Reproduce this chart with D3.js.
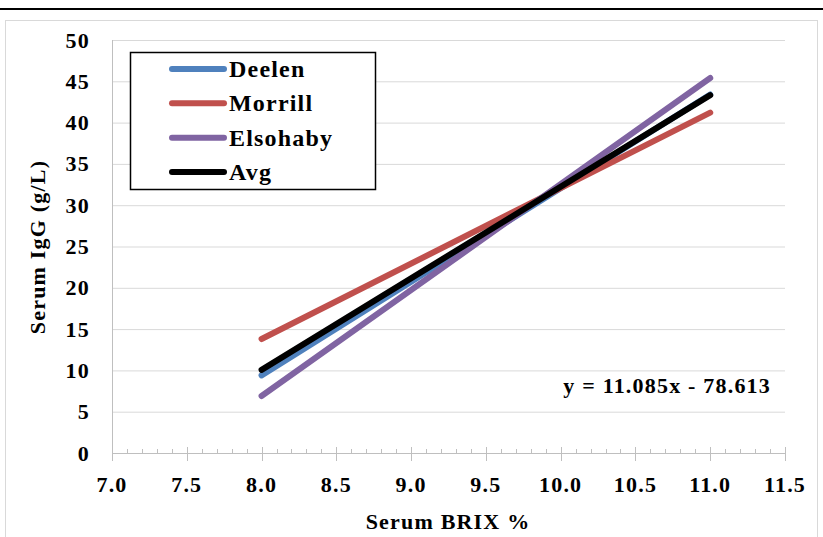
<!DOCTYPE html>
<html>
<head>
    <script src="https://d3js.org/d3.v7.min.js"></script>
    <style>
        body { margin: 0; background: #fff; }
        text { font-family: "Liberation Serif", "DejaVu Serif", serif; font-weight: bold; fill: #000; letter-spacing: 1.2px; }
    </style>
</head>
<body>
    <svg width="823" height="537"></svg>

    <script>
        // Series: endpoints of each fitted line (BRIX %, IgG g/L)
        const seriesNames = ["Deelen", "Morrill", "Elsohaby", "Avg"];
        const seriesColors = ["#4f81bd", "#c0504d", "#8064a2", "#000000"];
        const brixPoints = [8.0, 11.0];
        const deelen = [9.4, 43.4];
        const morrill = [13.8, 41.2];
        const elsohaby = [6.9, 45.4];
        const avg = [10.07, 43.32];
        const xTicks = [7.0, 7.5, 8.0, 8.5, 9.0, 9.5, 10.0, 10.5, 11.0, 11.5];
        const yTicks = [0, 5, 10, 15, 20, 25, 30, 35, 40, 45, 50];
        const equationLabel = "y = 11.085x - 78.613";

        const allSeries = [deelen, morrill, elsohaby, avg];

        const svg = d3.select("svg");

        // page rule at top and light chart frame
        svg.append("rect").attr("x", 0).attr("y", 8).attr("width", 823).attr("height", 2).attr("fill", "#000");
        svg.append("rect").attr("x", 5.5).attr("y", 20.5).attr("width", 812).attr("height", 540)
            .attr("fill", "none").attr("stroke", "#d9d9d9");

        const x = d3.scaleLinear().domain([7.0, 11.5]).range([112, 785]);
        const y = d3.scaleLinear().domain([0, 50]).range([453, 40]);

        // horizontal gridlines
        svg.append("g").selectAll("line")
            .data(yTicks.filter(d => d > 0))
            .enter().append("line")
            .attr("x1", x(7.0)).attr("x2", x(11.5))
            .attr("y1", d => y(d) + 0.5).attr("y2", d => y(d) + 0.5)
            .attr("stroke", "#d9d9d9").attr("stroke-width", 1);

        // y axis line and labels
        svg.append("line").attr("x1", x(7.0) + 0.5).attr("x2", x(7.0) + 0.5)
            .attr("y1", y(50)).attr("y2", y(0)).attr("stroke", "#bfbfbf");
        svg.append("g").selectAll("text")
            .data(yTicks).enter().append("text")
            .attr("x", 90).attr("y", d => y(d))
            .attr("text-anchor", "end").attr("dominant-baseline", "central")
            .attr("font-size", "22px")
            .text(d => d);

        // x axis: line, minor ticks (inside), major ticks (cross)
        svg.append("line").attr("x1", x(7.0)).attr("x2", x(11.5))
            .attr("y1", y(0) + 0.5).attr("y2", y(0) + 0.5).attr("stroke", "#bfbfbf");
        const minor = d3.range(70, 116).map(d => d / 10);
        svg.append("g").selectAll("line")
            .data(minor).enter().append("line")
            .attr("x1", d => Math.round(x(d)) + 0.5).attr("x2", d => Math.round(x(d)) + 0.5)
            .attr("y1", y(0) - 4).attr("y2", y(0))
            .attr("stroke", "#bfbfbf");
        svg.append("g").selectAll("line")
            .data(xTicks).enter().append("line")
            .attr("x1", d => Math.round(x(d)) + 0.5).attr("x2", d => Math.round(x(d)) + 0.5)
            .attr("y1", y(0) - 6).attr("y2", y(0) + 8)
            .attr("stroke", "#bfbfbf");
        svg.append("g").selectAll("text")
            .data(xTicks).enter().append("text")
            .attr("x", d => x(d)).attr("y", 492)
            .attr("text-anchor", "middle")
            .attr("font-size", "22px")
            .text(d => d.toFixed(1));

        // axis titles
        svg.append("text").attr("x", 448).attr("y", 529)
            .attr("text-anchor", "middle").attr("font-size", "22px")
            .text("Serum BRIX %");
        svg.append("text")
            .attr("transform", "translate(45,247) rotate(-90)")
            .attr("text-anchor", "middle").attr("font-size", "22px")
            .text("Serum IgG (g/L)");

        // series lines
        const line = d3.line().x(d => x(d[0])).y(d => y(d[1]));
        svg.append("g").selectAll("path")
            .data(allSeries).enter().append("path")
            .attr("d", vals => line(brixPoints.map((b, i) => [b, vals[i]])))
            .attr("fill", "none")
            .attr("stroke", (d, i) => seriesColors[i])
            .attr("stroke-width", 6)
            .attr("stroke-linecap", "round");

        // equation
        svg.append("text").attr("x", 771).attr("y", 393)
            .attr("text-anchor", "end").attr("font-size", "22px")
            .text(equationLabel);

        // legend
        const legend = svg.append("g");
        legend.append("rect").attr("x", 130.5).attr("y", 52.5).attr("width", 245).attr("height", 137)
            .attr("fill", "#fff").attr("stroke", "#000").attr("stroke-width", 1.5);
        const ly = d3.scalePoint().domain(seriesNames).range([69, 172]);
        seriesNames.forEach((name, i) => {
            legend.append("line")
                .attr("x1", 172).attr("x2", 224)
                .attr("y1", ly(name)).attr("y2", ly(name))
                .attr("stroke", seriesColors[i]).attr("stroke-width", 6)
                .attr("stroke-linecap", "round");
            legend.append("text")
                .attr("x", 229).attr("y", ly(name))
                .attr("dominant-baseline", "central")
                .attr("font-size", "24px")
                .text(name);
        });
    </script>
</body>
</html>
